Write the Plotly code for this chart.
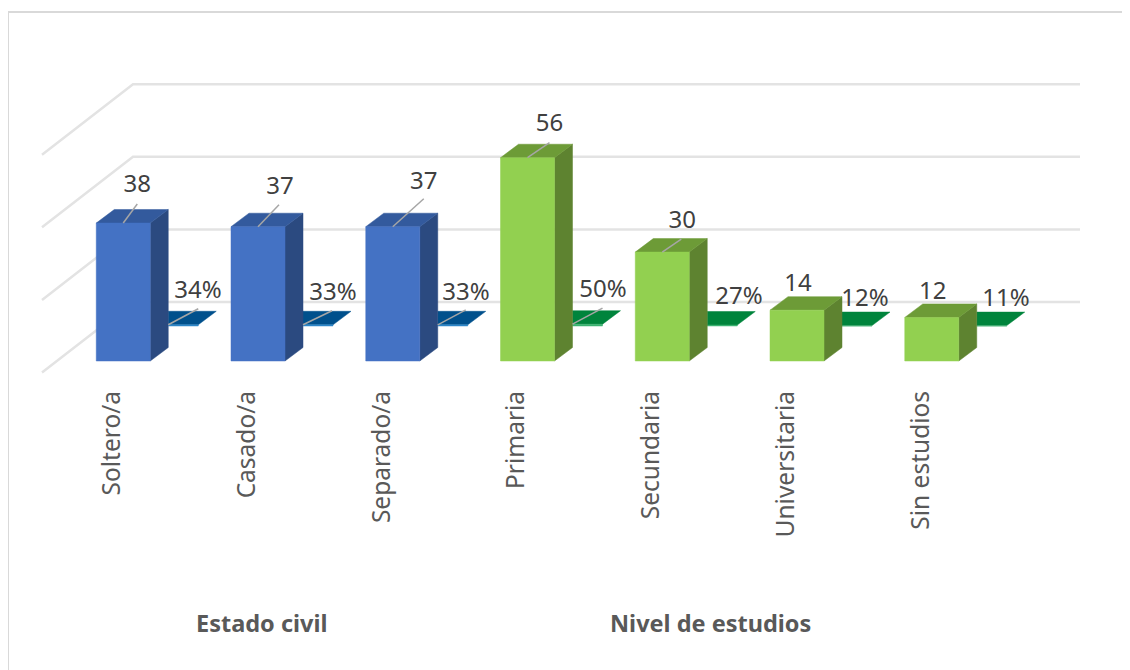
import plotly.graph_objects as go

# ---- data -------------------------------------------------------------
categories = ["Soltero/a", "Casado/a", "Separado/a", "Primaria", "Secundaria", "Universitaria", "Sin estudios"]
counts = [38, 37, 37, 56, 30, 14, 12]
percents = [34, 33, 33, 50, 27, 12, 11]
group_of = [0, 0, 0, 1, 1, 1, 1]
grid_values = [0, 20, 40, 60]
group_titles = ["Estado civil", "Nivel de estudios"]

# ---- geometry (pixels of the 1130x670 picture -> axis units) ------------
PAGE = 8            # the page's own body margin
W, H = 1130 - PAGE, 670 - PAGE
PX_PER_CAT = 134.75
PX_PER_UNIT = 3.63
X0_PX = 123.25      # picture pixel of category 0
Y0_PX = 361.0       # picture pixel of value 0 at the front row
AXIS_BOTTOM_PX = 385.0

def dx(px):
    return px / PX_PER_CAT

def dy(px):
    return px / PX_PER_UNIT

def xpx(px):
    return (px - X0_PX) / PX_PER_CAT

def ypx(py):
    return (Y0_PX - py) / PX_PER_UNIT

def paper_x(px):
    return (px - PAGE) / W

def paper_y(py):
    return (AXIS_BOTTOM_PX - py) / (AXIS_BOTTOM_PX - PAGE)

BAR_W = dx(54)
DEPTH_X, DEPTH_Y = dx(18), dy(13.5)
ROW_X, ROW_Y = dx(48), dy(35)       # offset of the flat % row behind the bars
WALL_X, WALL_Y = dx(91), dy(70.5)   # depth of the floor
FLOOR_FRONT_X = xpx(42)
FLOOR_FRONT_Y = dy(-11.5)
WALL_RIGHT_X = xpx(1080)

# label offsets in px from the front top centre of each bar
count_label_off = [(14, 37), (22, 39), (31, 44), (22, 33), (20, 30), (1, 25), (1, 24)]
count_leader_off = [(14, 19), (21, 22), (31, 28), (22, 15), (19, 13), None, None]
pct_label_px = [(198, 292), (333, 294), (466, 294), (603, 291), (739, 298), (865, 300), (1006, 300)]
pct_leader_off = [(30, 16), (29, 14), (28, 15), (30, 16), None, None, None]

FRONT = ["#4472c4", "#92d050"]
SIDE = ["#2b4a80", "#5e8330"]
TOP = ["#335a9d", "#6d9b37"]
FLAT_FRONT = ["#2f86c8", "#3cb371"]
FLAT_TOP = ["#00508c", "#00843c"]


def box(cx, value):
    """Front, side and top polygons of a count bar in axis units."""
    l, r = cx - BAR_W / 2, cx + BAR_W / 2
    front = [(l, 0), (r, 0), (r, value), (l, value), (l, 0)]
    side = [(r, 0), (r + DEPTH_X, DEPTH_Y), (r + DEPTH_X, value + DEPTH_Y), (r, value), (r, 0)]
    top = [(l, value), (r, value), (r + DEPTH_X, value + DEPTH_Y), (l + DEPTH_X, value + DEPTH_Y), (l, value)]
    return front, side, top


def flat_box(cx, value):
    """Visible front and top of a % bar in the back row: what the count bar does not hide."""
    l = cx + BAR_W / 2 + DEPTH_X        # the side face of the count bar ends here
    r = cx + BAR_W / 2 + ROW_X
    b, t = ROW_Y, ROW_Y + value
    front = [(l, b), (r, b), (r, t), (l, t), (l, b)]
    top = [(l, t), (r, t), (r + DEPTH_X, t + DEPTH_Y), (l, t + DEPTH_Y), (l, t)]
    return front, top


def poly_trace(polys, color):
    xs, ys = [], []
    for p in polys:
        xs += [q[0] for q in p] + [None]
        ys += [q[1] for q in p] + [None]
    return go.Scatter(x=xs, y=ys, mode="lines", fill="toself", fillcolor=color,
                      line=dict(color=color, width=0.5), hoverinfo="skip", showlegend=False)


fig = go.Figure()

# gridlines: back wall and floor/side wall
gx, gy = [], []
for v in grid_values:
    gx += [FLOOR_FRONT_X, FLOOR_FRONT_X + WALL_X, WALL_RIGHT_X, None]
    gy += [FLOOR_FRONT_Y + v, FLOOR_FRONT_Y + v + WALL_Y, FLOOR_FRONT_Y + v + WALL_Y, None]
fig.add_trace(go.Scatter(x=gx, y=gy, mode="lines", line=dict(color="#e3e3e3", width=2.5),
                         hoverinfo="skip", showlegend=False))

# flat % row, then the count bars in front of it
for g in (0, 1):
    idx = [i for i in range(len(categories)) if group_of[i] == g]
    flat = [flat_box(i, percents[i] / 100) for i in idx]
    fig.add_trace(poly_trace([f[1] for f in flat], FLAT_TOP[g]))
    fig.add_trace(poly_trace([f[0] for f in flat], FLAT_FRONT[g]))
for g in (0, 1):
    idx = [i for i in range(len(categories)) if group_of[i] == g]
    bars = [box(i, counts[i]) for i in idx]
    fig.add_trace(poly_trace([b[1] for b in bars], SIDE[g]))
    fig.add_trace(poly_trace([b[2] for b in bars], TOP[g]))
    fig.add_trace(poly_trace([b[0] for b in bars], FRONT[g]))

# leader lines
lx, ly = [], []
for i, v in enumerate(counts):
    off = count_leader_off[i]
    if off:
        lx += [i, i + dx(off[0]), None]
        ly += [v, v + dy(off[1]), None]
for i, v in enumerate(percents):
    off = pct_leader_off[i]
    if off:
        sx, sy = i + dx(45), ROW_Y + v / 100
        lx += [sx, sx + dx(off[0]), None]
        ly += [sy, sy + dy(off[1]), None]
fig.add_trace(go.Scatter(x=lx, y=ly, mode="lines", line=dict(color="#a6a6a6", width=1.5),
                         hoverinfo="skip", showlegend=False))

# data labels
LABEL_FONT = dict(family="Noto Sans", size=24, color="#404040")
fig.add_trace(go.Scatter(
    x=[i + dx(count_label_off[i][0]) for i in range(len(counts))],
    y=[counts[i] + dy(count_label_off[i][1]) for i in range(len(counts))],
    mode="text", text=[str(c) for c in counts], textposition="middle center",
    textfont=LABEL_FONT, hoverinfo="skip", showlegend=False))
fig.add_trace(go.Scatter(
    x=[xpx(p[0]) for p in pct_label_px],
    y=[ypx(p[1]) for p in pct_label_px],
    mode="text", text=[f"{p}%" for p in percents], textposition="middle center",
    textfont=LABEL_FONT, hoverinfo="skip", showlegend=False))

# group titles below their categories
for title, cx in zip(group_titles, [261, 710]):
    fig.add_annotation(x=xpx(cx), xref="x", y=paper_y(623), yref="paper", yanchor="middle",
                       text=f"<b>{title}</b>", showarrow=False,
                       font=dict(family="Noto Sans", size=23.5, color="#595959"))

fig.update_xaxes(
    range=[xpx(PAGE), xpx(PAGE + W)],
    tickmode="array",
    tickvals=[i - dx(11) for i in range(len(categories))],
    ticktext=categories,
    tickangle=-90,
    tickfont=dict(family="Noto Sans", size=24.5, color="#595959"),
    ticks="", ticklen=0, showgrid=False, zeroline=False, showline=False,
)
fig.update_yaxes(
    range=[ypx(AXIS_BOTTOM_PX), ypx(PAGE)],
    visible=False, showgrid=False, zeroline=False,
)

fig.update_layout(
    width=W, height=H,
    margin=dict(l=0, r=0, t=0, b=PAGE + H - AXIS_BOTTOM_PX, autoexpand=False),
    paper_bgcolor="white", plot_bgcolor="white",
    showlegend=False,
    shapes=[dict(type="line", xref="paper", yref="paper",
                 x0=paper_x(8), x1=paper_x(1130), y0=paper_y(12), y1=paper_y(12),
                 line=dict(color="#d9d9d9", width=2)),
            dict(type="line", xref="paper", yref="paper",
                 x0=paper_x(8), x1=paper_x(8), y0=paper_y(12), y1=paper_y(670),
                 line=dict(color="#d9d9d9", width=2))],
)
fig.write_html("out.html")
